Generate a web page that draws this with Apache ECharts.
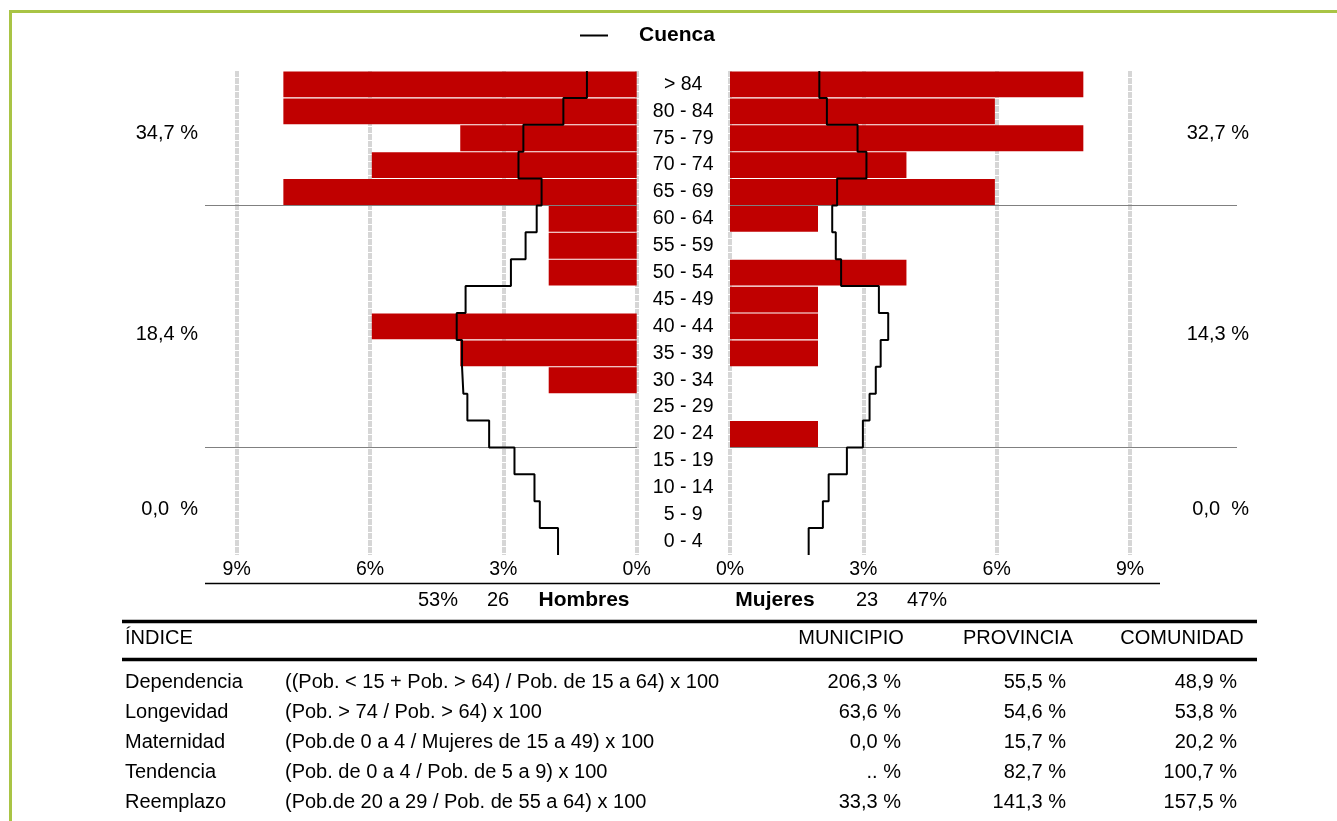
<!DOCTYPE html>
<html>
<head>
<meta charset="utf-8">
<script src="https://cdn.jsdelivr.net/npm/echarts@6/dist/echarts.min.js"></script>
<style>
html,body{margin:0;padding:0;background:#fff;}
#chart{width:1337px;height:821px;}
</style>
</head>
<body>
<div id="chart"></div>
<script>
// ---- Data ----
const ageGroups = ['> 84','80 - 84','75 - 79','70 - 74','65 - 69','60 - 64','55 - 59','50 - 54','45 - 49','40 - 44','35 - 39','30 - 34','25 - 29','20 - 24','15 - 19','10 - 14','5 - 9','0 - 4'];
const hombresPct = [7.95, 7.95, 3.97, 5.96, 7.95, 1.98, 1.98, 1.98, 0, 5.96, 3.97, 1.98, 0, 0, 0, 0, 0, 0];
const mujeresPct = [7.95, 5.96, 7.95, 3.97, 5.96, 1.98, 0, 3.97, 1.98, 1.98, 1.98, 0, 0, 1.98, 0, 0, 0, 0];
const provHombres = [1.12, 1.65, 2.55, 2.66, 2.14, 2.25, 2.50, 2.83, 3.85, 4.05, 3.93, 3.90, 3.81, 3.32, 2.75, 2.30, 2.18, 1.77];
const provMujeres = [2.01, 2.18, 2.87, 3.07, 2.41, 2.30, 2.38, 2.50, 3.35, 3.56, 3.39, 3.28, 3.14, 2.99, 2.63, 2.22, 2.09, 1.77];
const groupLabelsLeft = ['34,7 %', '18,4 %', '0,0  %'];
const groupLabelsRight = ['32,7 %', '14,3 %', '0,0  %'];
const groupBreaks = [5, 14]; // rows after which a separator is drawn
const totalsLeft = ['53%', '26', 'Hombres'];
const totalsRight = ['Mujeres', '23', '47%'];
const tableHeader = ['ÍNDICE', 'MUNICIPIO', 'PROVINCIA', 'COMUNIDAD'];
const indices = ['Dependencia', 'Longevidad', 'Maternidad', 'Tendencia', 'Reemplazo'];
const formulas = ['((Pob. < 15 + Pob. > 64) / Pob. de 15 a 64) x 100', '(Pob. > 74 / Pob. > 64) x 100', '(Pob.de 0 a 4 / Mujeres de 15 a 49) x 100', '(Pob. de 0 a 4 / Pob. de 5 a 9) x 100', '(Pob.de 20 a 29 / Pob. de 55 a 64) x 100'];
const municipio = ['206,3 %', '63,6 %', '0,0 %', '.. %', '33,3 %'];
const provincia = ['55,5 %', '54,6 %', '15,7 %', '82,7 %', '141,3 %'];
const comunidad = ['48,9 %', '53,8 %', '20,2 %', '100,7 %', '157,5 %'];

// ---- helpers ----
const FONT = 'Liberation Sans, Arial, Helvetica, sans-serif';
function stepData(vals) {
  const out = [];
  vals.forEach((v, i) => { out.push([v, i]); out.push([v, i + 1]); });
  return out;
}

const chart = echarts.init(document.getElementById('chart'));
const gridLine = { show: true, lineStyle: { color: '#d6d6d6', width: 4, type: [6, 1] } };
const xLabel = { color: '#000', fontSize: 19.5, fontFamily: FONT, margin: 5, formatter: '{value}%' };

const option = {
  animation: false,
  backgroundColor: '#fff',
  textStyle: { fontFamily: FONT },
  legend: {
    data: [{ name: 'Cuenca', icon: 'rect' }],
    left: 575, top: 20,
    itemWidth: 28, itemHeight: 2,
    itemStyle: { color: '#000' },
    textStyle: { color: '#000', fontSize: 21, fontWeight: 'bold', fontFamily: FONT, padding: [0, 0, 0, 26] },
    selectedMode: false
  },
  grid: [
    { left: 236.7, width: 400, top: 71, height: 484 },
    { left: 730, width: 400, top: 71, height: 484 }
  ],
  xAxis: [
    { gridIndex: 0, type: 'value', inverse: true, min: 0, max: 9, interval: 3,
      axisLine: { show: false }, axisTick: { show: false }, splitLine: gridLine, axisLabel: xLabel },
    { gridIndex: 1, type: 'value', min: 0, max: 9, interval: 3,
      axisLine: { show: false }, axisTick: { show: false }, splitLine: gridLine, axisLabel: xLabel }
  ],
  yAxis: [
    { gridIndex: 0, type: 'category', data: ageGroups, inverse: true, position: 'right',
      axisLine: { show: false }, axisTick: { show: false },
      axisLabel: { color: '#000', fontSize: 19.5, fontFamily: FONT, align: 'center', margin: 46.5 } },
    { gridIndex: 0, type: 'value', min: 0, max: ageGroups.length, inverse: true, show: false },
    { gridIndex: 1, type: 'category', data: ageGroups, inverse: true,
      axisLine: { show: false }, axisTick: { show: false }, axisLabel: { show: false } },
    { gridIndex: 1, type: 'value', min: 0, max: ageGroups.length, inverse: true, show: false }
  ],
  series: [
    { name: 'Hombres', type: 'bar', xAxisIndex: 0, yAxisIndex: 0, data: hombresPct,
      barCategoryGap: '4%', itemStyle: { color: '#c00000' }, z: 2 },
    { name: 'Mujeres', type: 'bar', xAxisIndex: 1, yAxisIndex: 2, data: mujeresPct,
      barCategoryGap: '4%', itemStyle: { color: '#c00000' }, z: 2 },
    { name: 'Cuenca', type: 'line', xAxisIndex: 0, yAxisIndex: 1, data: stepData(provHombres),
      symbol: 'none', lineStyle: { color: '#000', width: 2 }, itemStyle: { color: '#000' }, z: 5 },
    { name: 'Cuenca', type: 'line', xAxisIndex: 1, yAxisIndex: 3, data: stepData(provMujeres),
      symbol: 'none', lineStyle: { color: '#000', width: 2 }, itemStyle: { color: '#000' }, z: 5 }
  ]
};
chart.setOption(option);

// ---- decorations and text blocks ----
function txt(text, x, y, opts) {
  opts = opts || {};
  return {
    type: 'text', x: x, y: y, z: 10,
    style: {
      text: text, fill: '#000',
      font: (opts.bold ? 'bold ' : '') + (opts.size || 20) + 'px ' + FONT,
      align: opts.align || 'left', verticalAlign: 'middle',
      textAlign: opts.align || 'left', textVerticalAlign: 'middle'
    }
  };
}
function hline(x1, x2, y, w, color) {
  return { type: 'line', z: 3, shape: { x1: x1, y1: y, x2: x2, y2: y },
    style: { stroke: color, lineWidth: w } };
}

const g = [];
// green frame
g.push({ type: 'rect', shape: { x: 9, y: 10, width: 1328, height: 3 }, style: { fill: '#a9c445' } });
g.push({ type: 'rect', shape: { x: 9, y: 10, width: 3, height: 811 }, style: { fill: '#a9c445' } });

// separators between age groups (y from the value axis)
groupBreaks.forEach(b => {
  const y = Math.round(chart.convertToPixel({ yAxisIndex: 1 }, b)) + 0.5;
  g.push(hline(205, 637, y, 1, '#808080'));
  g.push(hline(730, 1237, y, 1, '#808080'));
});
// group share labels
const groupRanges = [[0, 5], [5, 14], [14, 18]];
const groupOffsets = [-5, 8, 8];
groupRanges.forEach((r, i) => {
  const y = (chart.convertToPixel({ yAxisIndex: 1 }, r[0]) + chart.convertToPixel({ yAxisIndex: 1 }, r[1])) / 2 + groupOffsets[i];
  g.push(txt(groupLabelsLeft[i], 198, y, { align: 'right' }));
  g.push(txt(groupLabelsRight[i], 1249, y, { align: 'right' }));
});

// axis base line
g.push(hline(205, 1160, 583.5, 1.5, '#000'));
// totals line
g.push(txt(totalsLeft[0], 458, 600, { align: 'right' }));
g.push(txt(totalsLeft[1], 498, 600, { align: 'center' }));
g.push(txt(totalsLeft[2], 584, 600, { align: 'center', bold: true, size: 21 }));
g.push(txt(totalsRight[0], 775, 600, { align: 'center', bold: true, size: 21 }));
g.push(txt(totalsRight[1], 867, 600, { align: 'center' }));
g.push(txt(totalsRight[2], 907, 600, { align: 'left' }));

// table
g.push(hline(122, 1257, 621.5, 3.5, '#000'));
g.push(hline(122, 1257, 659.5, 3.5, '#000'));
g.push(txt(tableHeader[0], 125, 638, { align: 'left' }));
g.push(txt(tableHeader[1], 851, 638, { align: 'center' }));
g.push(txt(tableHeader[2], 1018, 638, { align: 'center' }));
g.push(txt(tableHeader[3], 1182, 638, { align: 'center' }));
const rowY = [682, 712, 742, 772, 802];
indices.forEach((name, i) => {
  g.push(txt(name, 125, rowY[i], { align: 'left' }));
  g.push(txt(formulas[i], 285, rowY[i], { align: 'left' }));
  g.push(txt(municipio[i], 901, rowY[i], { align: 'right' }));
  g.push(txt(provincia[i], 1066, rowY[i], { align: 'right' }));
  g.push(txt(comunidad[i], 1237, rowY[i], { align: 'right' }));
});

chart.setOption({ graphic: g });
</script>
</body>
</html>
